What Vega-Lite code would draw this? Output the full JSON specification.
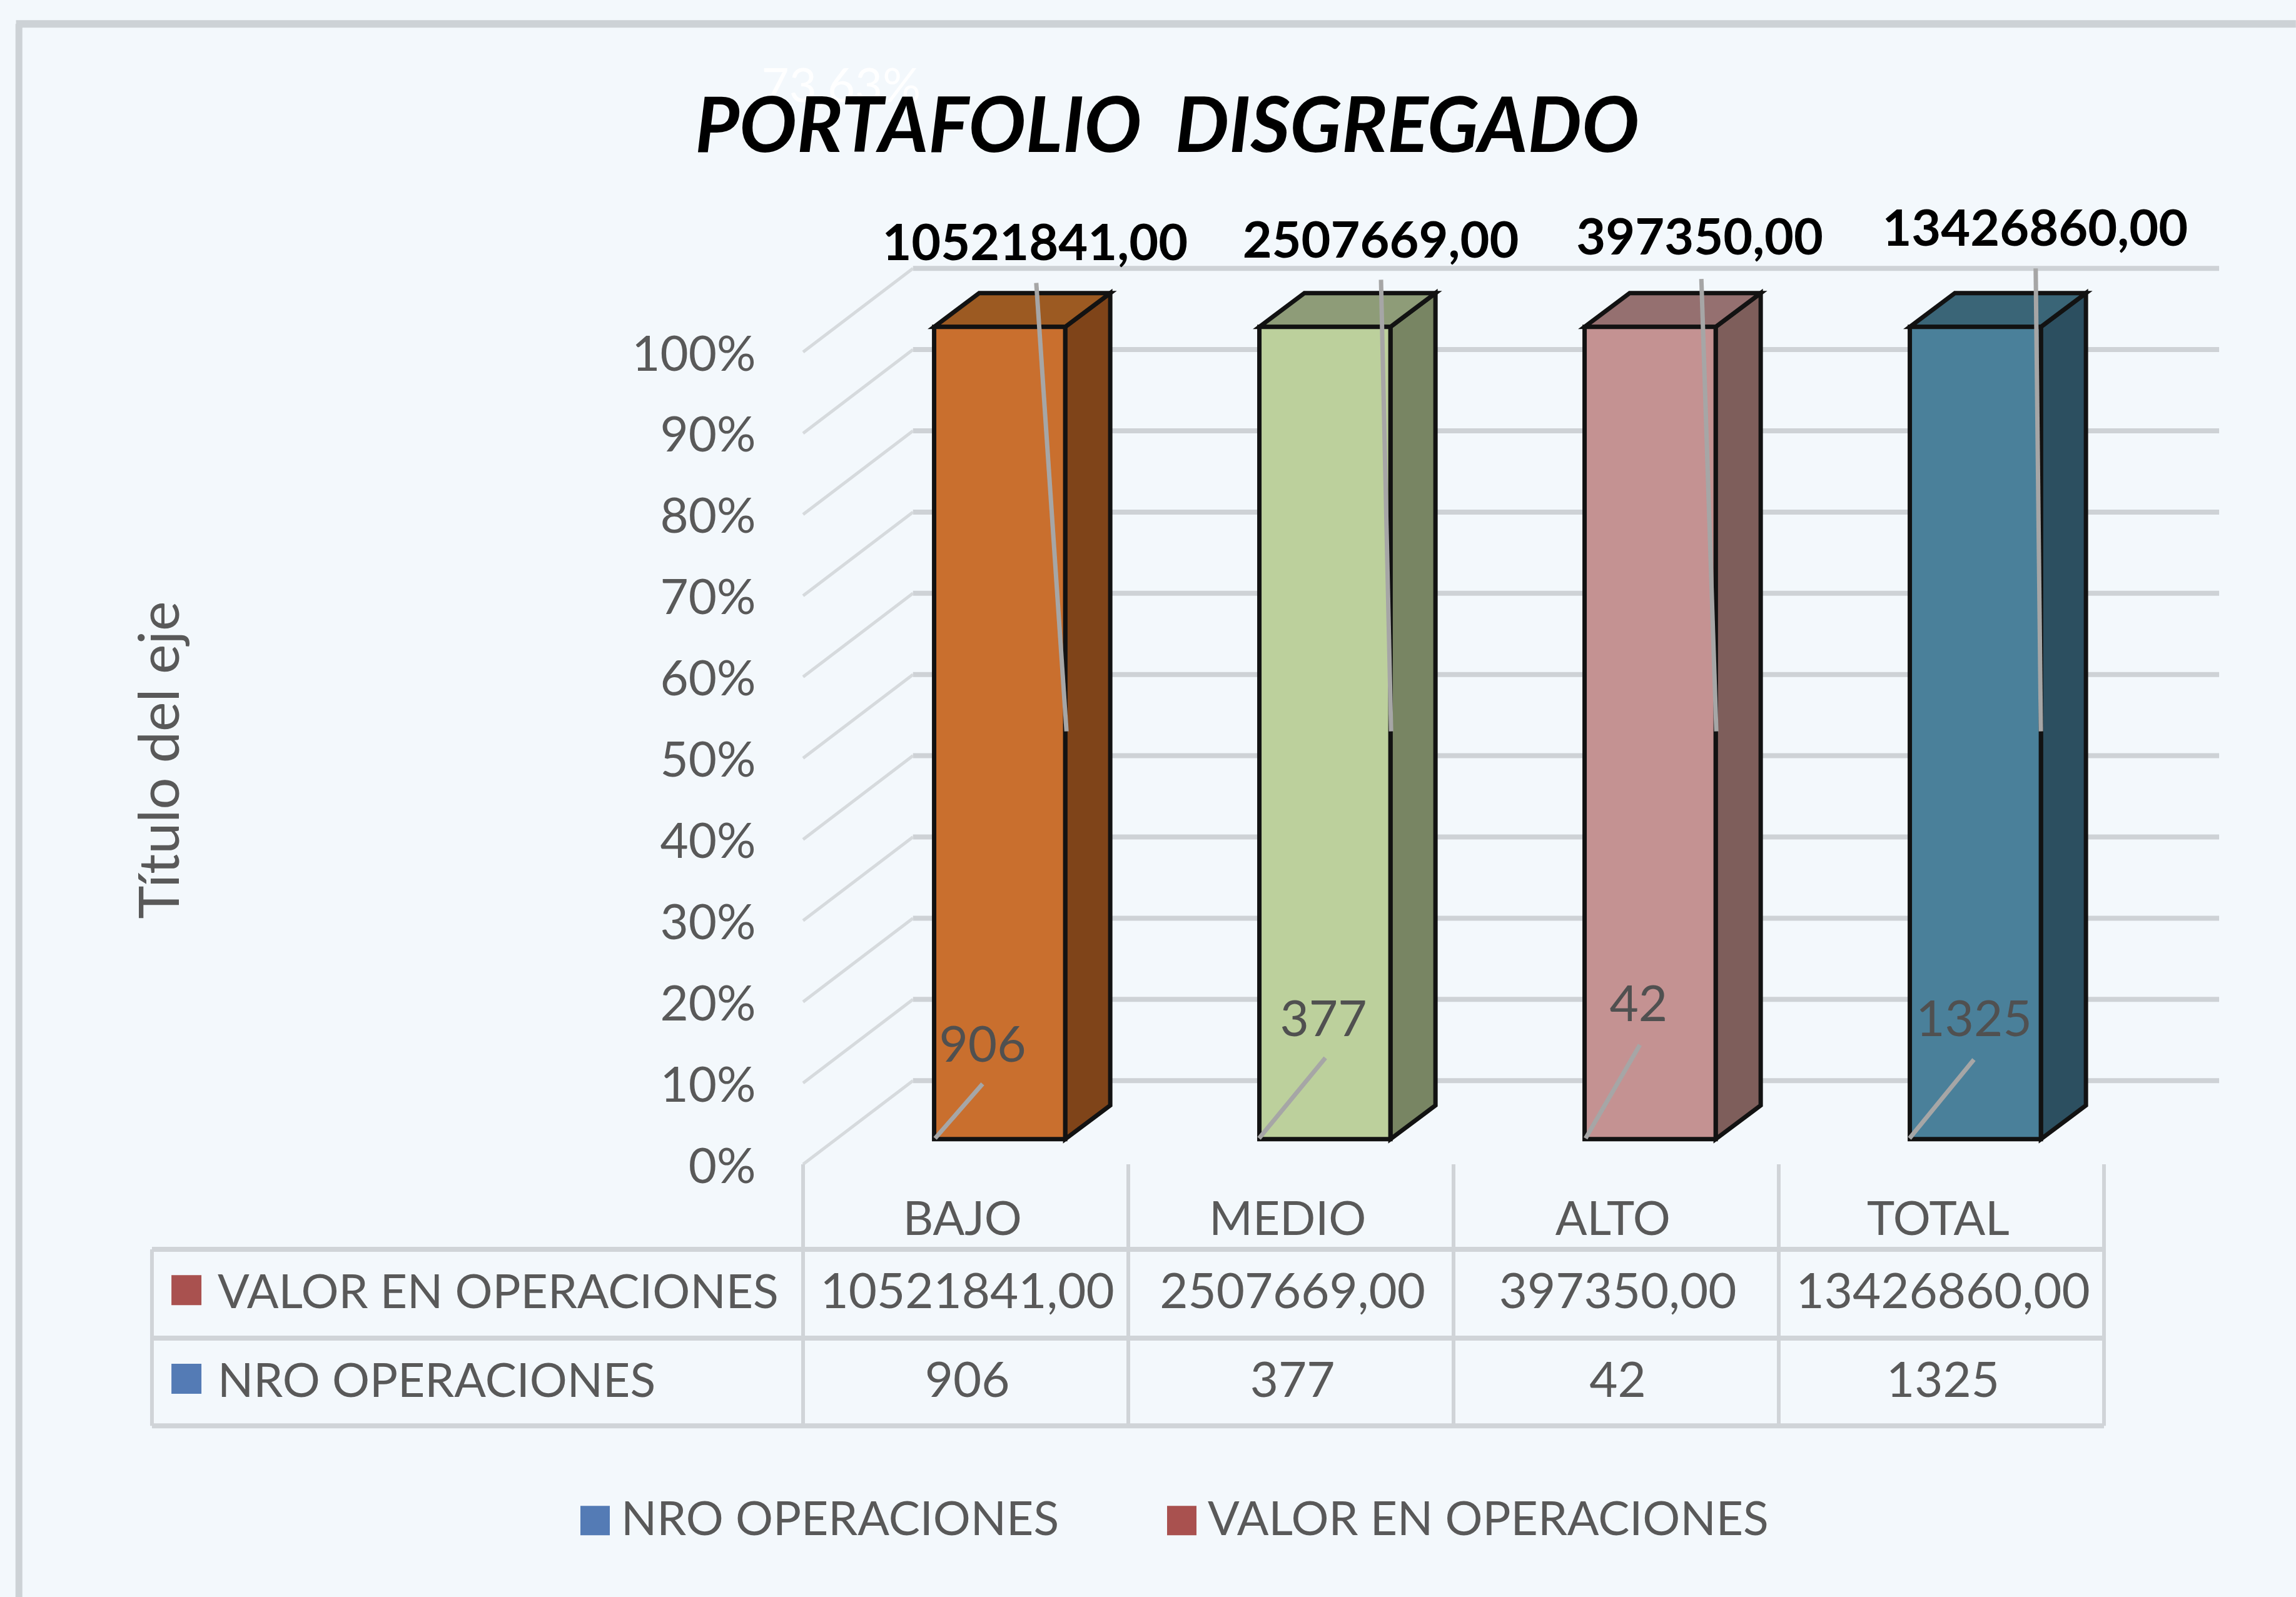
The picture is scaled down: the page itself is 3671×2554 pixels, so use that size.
{
"$schema":"https://vega.github.io/schema/vega-lite/v6.json",
"width":2080,"height":1299,
"autosize":{"type":"none"},
"padding":{"left":1284,"top":563,"right":307,"bottom":692},
"background":"#F3F8FC",
"config":{"view":{"stroke":null},"font":"Lato"},
"title":{"text":"PORTAFOLIO \u00a0DISGREGADO","font":"Lato","fontSize":122,"fontWeight":"bold","fontStyle":"italic","color":"#000000","anchor":"middle","frame":"group","dx":-458,"offset":-333,"baseline":"alphabetic","limit":3000},
"datasets":{
"filas":[
{"categoria":"BAJO","pos":0,"nro":906,"valor":10521841,"pct":100},
{"categoria":"MEDIO","pos":1,"nro":377,"valor":2507669,"pct":100},
{"categoria":"ALTO","pos":2,"nro":42,"valor":397350,"pct":100},
{"categoria":"TOTAL","pos":3,"nro":1325,"valor":13426860,"pct":100}],
"notas":[
{"categoria":"BAJO","serie":"valor","tx":0.713,"ty":113.6,"gx":0.717,"gy":108.5,"fx":0.81,"fy":53.3},
{"categoria":"MEDIO","serie":"valor","tx":1.776,"ty":113.9,"gx":1.777,"gy":108.9,"fx":1.808,"fy":53.3},
{"categoria":"ALTO","serie":"valor","tx":2.757,"ty":114.3,"gx":2.762,"gy":109,"fx":2.808,"fy":53.3},
{"categoria":"TOTAL","serie":"valor","tx":3.788,"ty":115.4,"gx":3.79,"gy":110.3,"fx":3.806,"fy":53.3},
{"categoria":"BAJO","serie":"nro","tx":0.552,"ty":14.9,"gx":0.552,"gy":9.9,"fx":0.406,"fy":3.2},
{"categoria":"MEDIO","serie":"nro","tx":1.6,"ty":18.1,"gx":1.606,"gy":13.1,"fx":1.402,"fy":3.2},
{"categoria":"ALTO","serie":"nro","tx":2.569,"ty":19.9,"gx":2.573,"gy":14.7,"fx":2.406,"fy":3.2},
{"categoria":"TOTAL","serie":"nro","tx":3.6,"ty":18.1,"gx":3.6,"gy":12.9,"fx":3.402,"fy":3.2}],
"marcas":[{"t":0},{"t":10},{"t":20},{"t":30},{"t":40},{"t":50},{"t":60},{"t":70},{"t":80},{"t":90},{"t":100}],
"series":[{"serie":"VALOR EN OPERACIONES","fila":-15.5},{"serie":"NRO OPERACIONES","fila":-26.4}],
"cortes":[{"c":0},{"c":1},{"c":2},{"c":3},{"c":4}],
"lineas":[{"l":-10.47},{"l":-21.4},{"l":-32.2}]
},
"encoding":{
"x":{"field":"x","type":"quantitative","scale":{"domain":[0,4],"nice":false,"zero":false},"axis":null},
"y":{"field":"y","type":"quantitative","scale":{"domain":[0,100],"nice":false,"zero":false},
 "axis":{"values":[0,10,20,30,40,50,60,70,80,90,100],"labelExpr":"datum.value+'%'","domain":false,"ticks":false,"grid":false,"labelFont":"Lato","labelFontSize":78,"labelColor":"#595959","labelPadding":76,"labelBaseline":"middle","labelOffset":6,"labelLimit":400,"title":"Título del eje","titleFont":"Lato","titleFontSize":90,"titleFontWeight":"normal","titleColor":"#595959","titleX":-1026,"titleY":652,"titleAngle":270,"titleAlign":"center","titleBaseline":"middle","titleLimit":1200}}
},
"layer":[
{"data":{"values":[{"a":-2.411,"b":140.4,"c":-53.4}]},
 "transform":[{"calculate":"datum.a","as":"x"},{"calculate":"datum.b","as":"y"}],
 "mark":{"type":"rule","stroke":"#CDD2D6","strokeWidth":11},
 "encoding":{"y2":{"field":"c"}}},
{"data":{"values":[{"a":-2.42,"b":4.59,"c":140.4}]},
 "transform":[{"calculate":"datum.a","as":"x"},{"calculate":"datum.c","as":"y"}],
 "mark":{"type":"rule","stroke":"#CDD2D6","strokeWidth":12},
 "encoding":{"x2":{"field":"b"}}},
{"data":{"name":"marcas"},
 "transform":[{"calculate":"0.338","as":"x"},{"calculate":"4.354","as":"x1"},{"calculate":"datum.t+10.3","as":"y"}],
 "mark":{"type":"rule","stroke":"#CED2D6","strokeWidth":8},
 "encoding":{"x2":{"field":"x1"}}},
{"data":{"name":"marcas"},
 "transform":[{"calculate":"0","as":"x"},{"calculate":"0.338","as":"x1"},{"calculate":"datum.t","as":"y"},{"calculate":"datum.t+10.3","as":"y1"}],
 "mark":{"type":"rule","stroke":"#D6DADD","strokeWidth":5},
 "encoding":{"x2":{"field":"x1"},"y2":{"field":"y1"}}},
{"data":{"name":"cortes"},
 "transform":[{"calculate":"datum.c","as":"x"},{"calculate":"0","as":"y"},{"calculate":"-32.2","as":"y1"}],
 "mark":{"type":"rule","stroke":"#D0D4D8","strokeWidth":6},
 "encoding":{"y2":{"field":"y1"}}},
{"data":{"name":"lineas"},
 "transform":[{"calculate":"-2.002","as":"x"},{"calculate":"4","as":"x1"},{"calculate":"datum.l","as":"y"}],
 "mark":{"type":"rule","stroke":"#D0D4D8","strokeWidth":8},
 "encoding":{"x2":{"field":"x1"}}},
{"data":{"values":[{"a":-2.002,"b":-10.47,"c":-32.2}]},
 "transform":[{"calculate":"datum.a","as":"x"},{"calculate":"datum.b","as":"y"}],
 "mark":{"type":"rule","stroke":"#D0D4D8","strokeWidth":6},
 "encoding":{"y2":{"field":"c"}}},
{"data":{"name":"series"},
 "transform":[{"calculate":"-1.896","as":"x"},{"calculate":"datum.fila","as":"y"}],
 "mark":{"type":"point","filled":true,"shape":"square","size":2300,"opacity":1},
 "encoding":{"color":{"field":"serie","type":"nominal","scale":{"domain":["NRO OPERACIONES","VALOR EN OPERACIONES"],"range":["#547BB5","#A9514F"]},
  "legend":{"orient":"none","legendX":-370,"legendY":1831,"columns":2,"columnPadding":158,"title":null,"symbolType":"square","symbolSize":2209,"symbolStrokeWidth":0,"labelFont":"Lato","labelFontSize":75,"labelColor":"#595959","labelOffset":4,"labelLimit":1200}}}},
{"data":{"name":"series"},
 "transform":[{"calculate":"-1.8","as":"x"},{"calculate":"datum.fila","as":"y"}],
 "mark":{"type":"text","align":"left","baseline":"middle","font":"Lato","fontSize":75,"color":"#595959","dy":6},
 "encoding":{"text":{"field":"serie"}}},
{"data":{"name":"filas"},
 "transform":[{"calculate":"datum.pos+0.49","as":"x"},{"calculate":"-6.5","as":"y"}],
 "mark":{"type":"text","align":"center","baseline":"middle","font":"Lato","fontSize":75,"color":"#595959","dy":6},
 "encoding":{"text":{"field":"categoria"}}},
{"data":{"name":"filas"},
 "transform":[{"calculate":"datum.pos+0.505","as":"x"},{"calculate":"-15.5","as":"y"},{"calculate":"replace(format(datum.valor,'.2f'),'.',',')","as":"rotulo"}],
 "mark":{"type":"text","align":"center","baseline":"middle","font":"Lato","fontSize":78,"color":"#595959","dy":6},
 "encoding":{"text":{"field":"rotulo"}}},
{"data":{"name":"filas"},
 "transform":[{"calculate":"datum.pos+0.505","as":"x"},{"calculate":"-26.4","as":"y"}],
 "mark":{"type":"text","align":"center","baseline":"middle","font":"Lato","fontSize":78,"color":"#595959","dy":6},
 "encoding":{"text":{"field":"nro","type":"quantitative"}}},
{"data":{"name":"filas"},
 "transform":[{"calculate":"[0,1]","as":"d"},{"flatten":["d"]},
  {"calculate":"datum.pos+0.806+datum.d*0.1385","as":"x"},
  {"calculate":"3.1+datum.d*4.15","as":"y"},
  {"calculate":"datum.pct+3.1+datum.d*4.15","as":"y1"},
  {"calculate":"datum.categoria+' lado'","as":"cara"}],
 "mark":{"type":"area","orient":"vertical","stroke":"#121212","strokeWidth":7,"strokeJoin":"miter"},
 "encoding":{"y2":{"field":"y1"},"detail":{"field":"categoria"},"fill":{"field":"cara","type":"nominal","legend":null,
  "scale":{"domain":["BAJO frente","BAJO lado","BAJO tapa","MEDIO frente","MEDIO lado","MEDIO tapa","ALTO frente","ALTO lado","ALTO tapa","TOTAL frente","TOTAL lado","TOTAL tapa"],
  "range":["#C96F2E","#7F4419","#9C5A22","#BCD09C","#788563","#8E9C78","#C49292","#7E5E5B","#957070","#4A809A","#2C4F60","#3A6577"]}}}},
{"data":{"name":"filas"},
 "transform":[{"calculate":"[0,1,2,3]","as":"d"},{"flatten":["d"]},
  {"calculate":"datum.pos+0.403+(datum.d==0?0:datum.d==1?0.1385:datum.d==2?0.403:0.5415)","as":"x"},
  {"calculate":"datum.pct+3.1+(datum.d==0?0:4.15)","as":"y"},
  {"calculate":"datum.pct+3.1+(datum.d==3?4.15:0)","as":"y1"},
  {"calculate":"datum.categoria+' tapa'","as":"cara"}],
 "mark":{"type":"area","orient":"vertical","stroke":"#121212","strokeWidth":7,"strokeJoin":"miter"},
 "encoding":{"y2":{"field":"y1"},"detail":{"field":"categoria"},"fill":{"field":"cara","type":"nominal","legend":null,
  "scale":{"domain":["BAJO frente","BAJO lado","BAJO tapa","MEDIO frente","MEDIO lado","MEDIO tapa","ALTO frente","ALTO lado","ALTO tapa","TOTAL frente","TOTAL lado","TOTAL tapa"],
  "range":["#C96F2E","#7F4419","#9C5A22","#BCD09C","#788563","#8E9C78","#C49292","#7E5E5B","#957070","#4A809A","#2C4F60","#3A6577"]}}}},
{"data":{"name":"filas"},
 "transform":[{"calculate":"datum.pos+0.403","as":"x"},{"calculate":"datum.pos+0.806","as":"x1"},{"calculate":"3.1","as":"y"},{"calculate":"datum.pct+3.1","as":"y1"},{"calculate":"datum.categoria+' frente'","as":"cara"}],
 "mark":{"type":"rect","stroke":"#121212","strokeWidth":7},
 "encoding":{"x2":{"field":"x1"},"y2":{"field":"y1"},"fill":{"field":"cara","type":"nominal","legend":null,
  "scale":{"domain":["BAJO frente","BAJO lado","BAJO tapa","MEDIO frente","MEDIO lado","MEDIO tapa","ALTO frente","ALTO lado","ALTO tapa","TOTAL frente","TOTAL lado","TOTAL tapa"],
  "range":["#C96F2E","#7F4419","#9C5A22","#BCD09C","#788563","#8E9C78","#C49292","#7E5E5B","#957070","#4A809A","#2C4F60","#3A6577"]}}}},
{"data":{"name":"notas"},
 "transform":[{"calculate":"datum.gx","as":"x"},{"calculate":"datum.gy","as":"y"}],
 "mark":{"type":"rule","stroke":"#A6A6A6","strokeWidth":7},
 "encoding":{"x2":{"field":"fx"},"y2":{"field":"fy"}}},
{"data":{"name":"notas"},
 "transform":[{"filter":"datum.serie=='valor'"},
  {"lookup":"categoria","from":{"data":{"name":"filas"},"key":"categoria","fields":["valor"]}},
  {"calculate":"replace(format(datum.valor,'.2f'),'.',',')","as":"rotulo"},
  {"calculate":"datum.tx","as":"x"},{"calculate":"datum.ty","as":"y"}],
 "mark":{"type":"text","align":"center","baseline":"middle","font":"Lato","fontSize":81,"fontWeight":"bold","color":"#000000","dy":6},
 "encoding":{"text":{"field":"rotulo"}}},
{"data":{"name":"notas"},
 "transform":[{"filter":"datum.serie=='nro'"},
  {"lookup":"categoria","from":{"data":{"name":"filas"},"key":"categoria","fields":["nro"]}},
  {"calculate":"datum.tx","as":"x"},{"calculate":"datum.ty","as":"y"}],
 "mark":{"type":"text","align":"center","baseline":"middle","font":"Lato","fontSize":80,"color":"#505050","dy":6},
 "encoding":{"text":{"field":"nro","type":"quantitative"}}},
{"data":{"values":[{"rotulo":"73,63%","a":0.117,"b":132.6}]},
 "transform":[{"calculate":"datum.a","as":"x"},{"calculate":"datum.b","as":"y"}],
 "mark":{"type":"text","align":"center","baseline":"middle","font":"Lato","fontSize":76,"color":"#FFFFFF"},
 "encoding":{"text":{"field":"rotulo"}}}
]
}
